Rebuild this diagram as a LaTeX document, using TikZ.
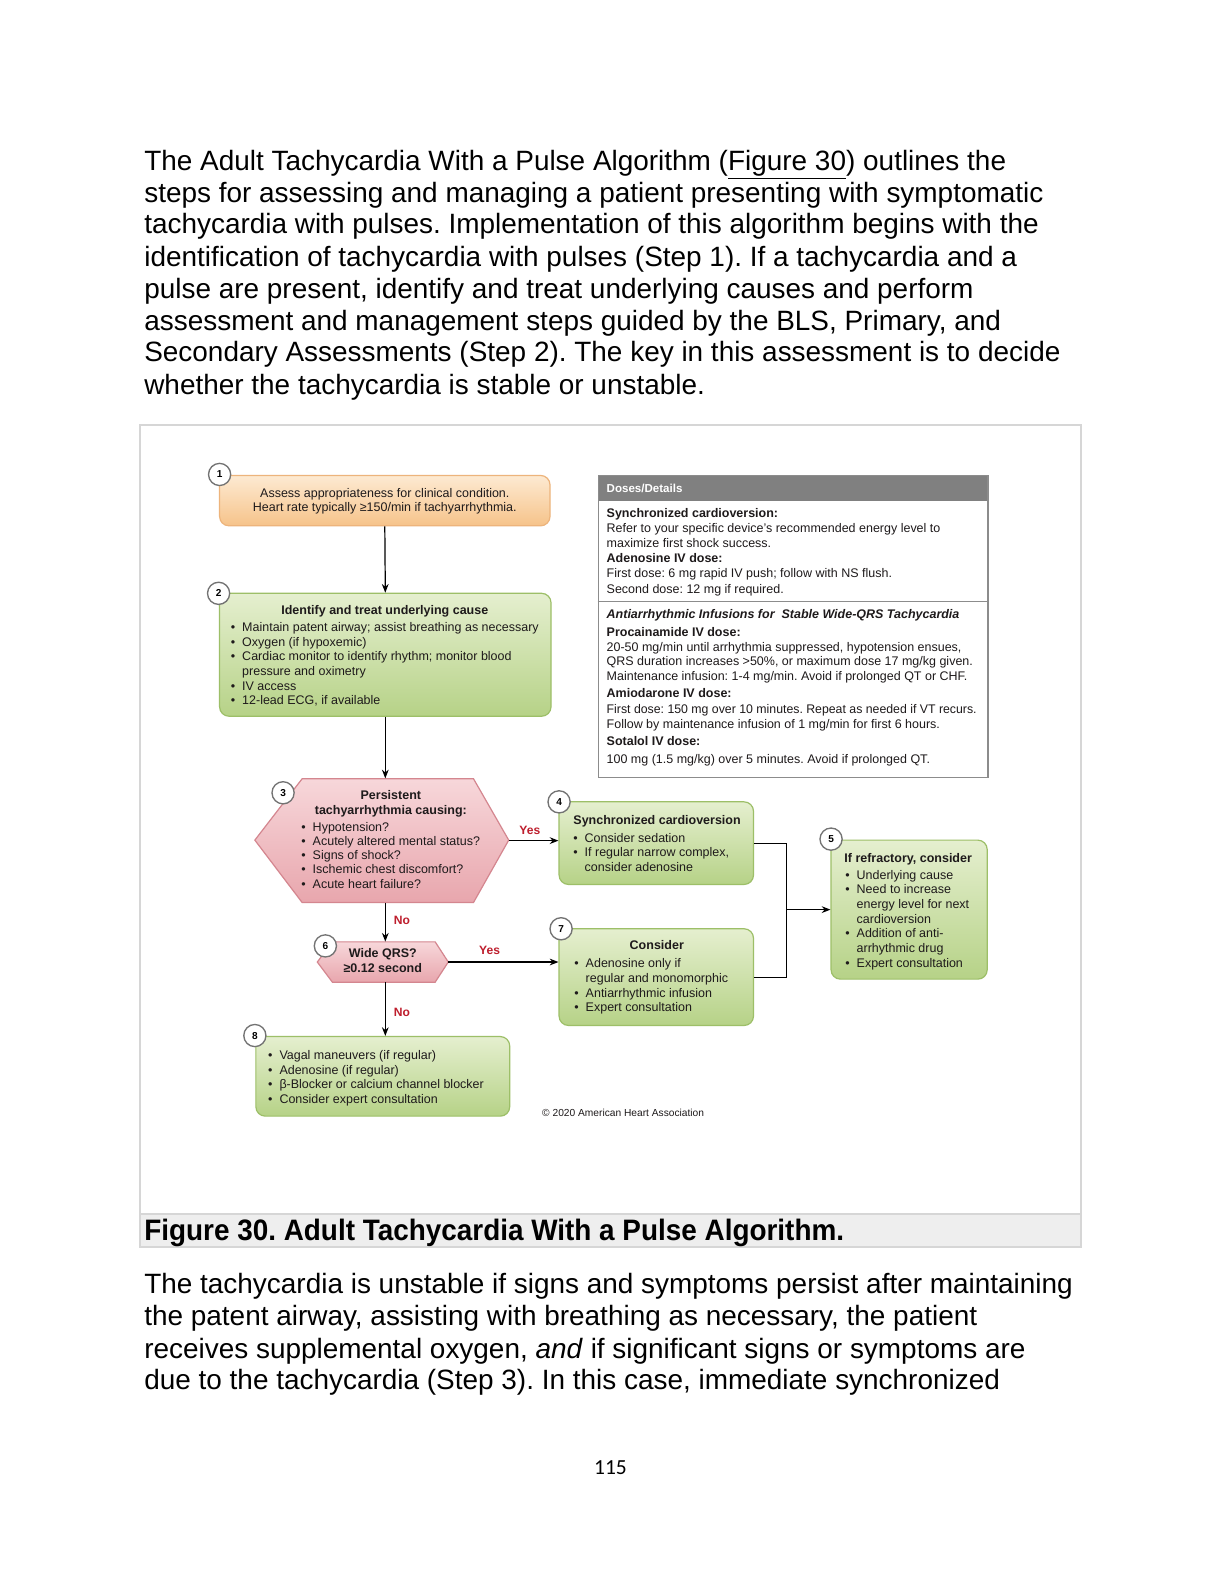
\documentclass[tikz,border=0pt]{standalone}
\usepackage{fontspec}
\setmainfont{Liberation Sans}
\newfontfamily\pnfont{Carlito}
\usetikzlibrary{arrows.meta,fit}
\frenchspacing
\definecolor{gtop}{HTML}{E5EFCF}
\definecolor{gbot}{HTML}{B6D287}
\definecolor{gline}{HTML}{9DBF68}
\definecolor{otop}{HTML}{FDEAD2}
\definecolor{obot}{HTML}{F6C38A}
\definecolor{oline}{HTML}{EDB47C}
\definecolor{ptop}{HTML}{F7D7DA}
\definecolor{pbot}{HTML}{E8A6AD}
\definecolor{pline}{HTML}{D4868F}
\definecolor{yesred}{HTML}{BE1E2D}
\definecolor{hdrgray}{HTML}{808080}
\definecolor{boxgray}{HTML}{8C8C8C}
\definecolor{framegray}{HTML}{D6D6D6}
\definecolor{capgray}{HTML}{EEEEEE}
\definecolor{txt}{HTML}{1E1A1B}
\newcommand{\dfont}{\fontsize{9.3}{10.9}\selectfont}
\newcommand{\bu}{\makebox[8.4pt][l]{•}}
\newcommand{\bs}{\hspace*{8.4pt}}
\tikzset{
  para/.style={anchor=base west, inner sep=0, font=\fontsize{20.8}{24}\selectfont, yshift=-6.9pt},
  sl/.style={anchor=base west, inner sep=0, font=\dfont, text=txt, yshift=-2.8pt},
  slc/.style={sl, anchor=base},
  bsl/.style={sl, font=\dfont\bfseries},
  bslc/.style={bsl, anchor=base},
  lst/.style={anchor=north west, inner sep=0, align=left, font=\dfont, text=txt, yshift=4.9pt},
  gbox/.style={draw=gline, line width=0.9pt, rounded corners=7pt, top color=gtop, bottom color=gbot, inner sep=0},
  obox/.style={draw=oline, line width=0.9pt, rounded corners=7pt, top color=otop, bottom color=obot, inner sep=0},
  hexa/.style={draw=pline, line width=0.9pt, top color=ptop, bottom color=pbot},
  badge/.style={circle, draw=black!55, fill=white, line width=1pt, minimum size=16.5pt, inner sep=0, font=\fontsize{7.5}{8}\selectfont\bfseries},
  conn/.style={line width=0.9pt, -{Stealth[length=6.5pt,width=5pt]}},
  link/.style={line width=0.9pt},
  yn/.style={font=\fontsize{9}{10}\selectfont\bfseries, text=yesred, inner sep=0},
}
\begin{document}
\begin{tikzpicture}[x=0.75pt,y=-0.75pt]
\useasboundingbox (0,0) rectangle (1210.5,1567.5);
\fill[white] (0,0) rectangle (1220,1579);

% ---------- top paragraph
\node[para] (p1) at (143,160) {The Adult Tachycardia With a Pulse Algorithm (\underline{Figure 30}) outlines the};
\node[para] (p2) at (143,192) {steps for assessing and managing a patient presenting with symptomatic};
\node[para] (p3) at (143,223) {tachycardia with pulses. Implementation of this algorithm begins with the};
\node[para] (p4) at (143,255) {identification of tachycardia with pulses (Step 1). If a tachycardia and a};
\node[para] (p5) at (143,287) {pulse are present, identify and treat underlying causes and perform};
\node[para] (p6) at (143,319) {assessment and management steps guided by the BLS, Primary, and};
\node[para] (p7) at (143,350) {Secondary Assessments (Step 2). The key in this assessment is to decide};
\node[para] (p8) at (143,382) {whether the tachycardia is stable or unstable.};

% ---------- figure frame and caption
\node[fit={(139,422) (1073,1238)}, draw=framegray, line width=1.2pt, inner sep=0] (frame) {};
\node[fit={(139,1205) (1073,1238)}, fill=capgray, draw=framegray, line width=1.2pt, inner sep=0] (capband) {};
\node[para, font=\fontsize{22}{24}\selectfont\bfseries, xscale=0.944, anchor=base west] (cap) at (143,1222) {Figure 30. Adult Tachycardia With a Pulse Algorithm.};

% ---------- box 1
\node[obox, fit={(218,472) (546,522)}] (b1) {};
\node[slc] (t1a) at (382,490) {Assess appropriateness for clinical condition.};
\node[slc] (t1b) at (382,504) {Heart rate typically ≥150/min if tachyarrhythmia.};
\node[badge] (n1) at (218,471) {1};

% ---------- box 2
\node[gbox, fit={(218,589) (547,711)}] (b2) {};
\node[bslc] (t2) at (382,606) {Identify and treat underlying cause};
\node[lst] (l2) at (229,623) {\strut\bu Maintain patent airway; assist breathing as necessary\\
\bu Oxygen (if hypoxemic)\\
\bu Cardiac monitor to identify rhythm; monitor blood\\
\bs pressure and oximetry\\
\bu IV access\\
\bu 12-lead ECG, if available};
\node[badge] (n2) at (217,589) {2};

% ---------- hexagon 3
\node[fit={(253,773) (511,896)}, inner sep=0] (h3) {};
\path[hexa] (300,773) -- (470,773) -- (505,834) -- (470,896) -- (300,896) -- (253,834) -- cycle;
\node[bslc] (t3a) at (388,790) {Persistent};
\node[bslc] (t3b) at (388,805) {tachyarrhythmia causing:};
\node[lst, font=\fontsize{9.3}{10.5}\selectfont] (l3) at (299,822) {\strut\bu Hypotension?\\
\bu Acutely altered mental status?\\
\bu Signs of shock?\\
\bu Ischemic chest discomfort?\\
\bu Acute heart failure?};
\node[badge] (n3) at (281,787) {3};

% ---------- box 4
\node[gbox, fit={(555,796) (748,878)}] (b4) {};
\node[bsl] (t4) at (569,815) {Synchronized cardioversion};
\node[lst] (l4) at (569,832) {\strut\bu Consider sedation\\
\bu If regular narrow complex,\\
\bs consider adenosine};
\node[badge] (n4) at (555,796) {4};

% ---------- box 5
\node[gbox, fit={(825,834) (980,972)}] (b5) {};
\node[bsl] (t5) at (838,852) {If refractory, consider};
\node[lst] (l5) at (839,869) {\strut\bu Underlying cause\\
\bu Need to increase\\
\bs energy level for next\\
\bs cardioversion\\
\bu Addition of anti-\\
\bs arrhythmic drug\\
\bu Expert consultation};
\node[badge] (n5) at (825,833) {5};

% ---------- hexagon 6
\node[fit={(315,935) (449,975)}, inner sep=0] (h6) {};
\path[hexa] (330,935) -- (432,935) -- (445,955) -- (432,975) -- (330,975) -- (315,955) -- cycle;
\node[bslc] (t6a) at (380,947) {Wide QRS?};
\node[bslc] (t6b) at (380,962) {≥0.12 second};
\node[badge] (n6) at (323,939) {6};

% ---------- box 7
\node[gbox, fit={(555,922) (748,1018)}] (b7) {};
\node[bslc] (t7) at (652,939) {Consider};
\node[lst] (l7) at (570,957) {\strut\bu Adenosine only if\\
\bs regular and monomorphic\\
\bu Antiarrhythmic infusion\\
\bu Expert consultation};
\node[badge] (n7) at (557,922) {7};

% ---------- box 8
\node[gbox, fit={(254,1029) (506,1108)}] (b8) {};
\node[lst] (l8) at (266,1048) {\strut\bu Vagal maneuvers (if regular)\\
\bu Adenosine (if regular)\\
\bu β-Blocker or calcium channel blocker\\
\bu Consider expert consultation};
\node[badge] (n8) at (253,1028) {8};

% ---------- doses box
\node[fit={(594,472) (981,497)}, fill=hdrgray, inner sep=0] (dh) {};
\node[fit={(594,472) (981,772)}, draw=boxgray, line width=1.1pt, inner sep=0] (db) {};
\draw[boxgray, line width=1.1pt] (db.west |- 0,597) -- (db.east |- 0,597);
\node[bsl, text=white, font=\fontsize{8.6}{10}\selectfont\bfseries] (dht) at (602,485) {Doses/Details};
\node[bsl] (d1) at (602,510) {Synchronized cardioversion:};
\node[sl] (d2) at (602,525) {Refer to your specific device's recommended energy level to};
\node[sl] (d3) at (602,540) {maximize first shock success.};
\node[bsl] (d4) at (602,555) {Adenosine IV dose:};
\node[sl] (d5) at (602,570) {First dose: 6 mg rapid IV push; follow with NS flush.};
\node[sl] (d6) at (602,585) {Second dose: 12 mg if required.};
\node[bsl, font=\dfont\bfseries\itshape] (d7) at (602,610) {Antiarrhythmic Infusions for \ Stable Wide-QRS Tachycardia};
\node[bsl] (d8) at (602,628) {Procainamide IV dose:};
\node[sl] (d9) at (602,643) {20-50 mg/min until arrhythmia suppressed, hypotension ensues,};
\node[sl] (d10) at (602,657) {QRS duration increases >50\%, or maximum dose 17 mg/kg given.};
\node[sl] (d11) at (602,672) {Maintenance infusion: 1-4 mg/min. Avoid if prolonged QT or CHF.};
\node[bsl] (d12) at (602,689) {Amiodarone IV dose:};
\node[sl, xscale=0.985] (d13) at (602,705) {First dose: 150 mg over 10 minutes. Repeat as needed if VT recurs.};
\node[sl] (d14) at (602,719) {Follow by maintenance infusion of 1 mg/min for first 6 hours.};
\node[bsl] (d15) at (602,736) {Sotalol IV dose:};
\node[sl] (d16) at (602,754) {100 mg (1.5 mg/kg) over 5 minutes. Avoid if prolonged QT.};

% ---------- copyright
\node[sl, font=\fontsize{7.6}{9}\selectfont] (copy) at (538,1105) {© 2020 American Heart Association};

% ---------- connectors
\draw[conn] (b1.south) -- (b2.north);
\draw[conn] (b2.south) -- (b2.south |- h3.north);
\draw[conn] (h3.east -| 505,0) -- (h3.east -| b4.west);
\node[yn] (y1) at (526,824) {Yes};
\draw[conn] (b2.south |- h3.south) -- (b2.south |- h6.north);
\node[yn] (no1) at (399,914) {No};
\draw[conn] (445,955) -- (b7.west |- 0,955);
\node[yn] (y2) at (486,943) {Yes};
\draw[conn] (b2.south |- h6.south) -- (b2.south |- b8.north);
\node[yn] (no2) at (399,1005) {No};
\coordinate (j) at (781,903);
\draw[link] (b4.east) -| (j |- b7.east) -- (b7.east);
\draw[conn] (j) -- (j -| b5.west);

% ---------- bottom paragraph
\node[para] (q1) at (143,1275) {The tachycardia is unstable if signs and symptoms persist after maintaining};
\node[para] (q2) at (143,1307) {the patent airway, assisting with breathing as necessary, the patient};
\node[para] (q3) at (143,1339) {receives supplemental oxygen, \textit{and} if significant signs or symptoms are};
\node[para] (q4) at (143,1370) {due to the tachycardia (Step 3). In this case, immediate synchronized};
\node[anchor=base, inner sep=0, font=\pnfont\fontsize{16}{18}\selectfont, yshift=-4pt] (pg) at (606,1458) {115};
\end{tikzpicture}
\end{document}
